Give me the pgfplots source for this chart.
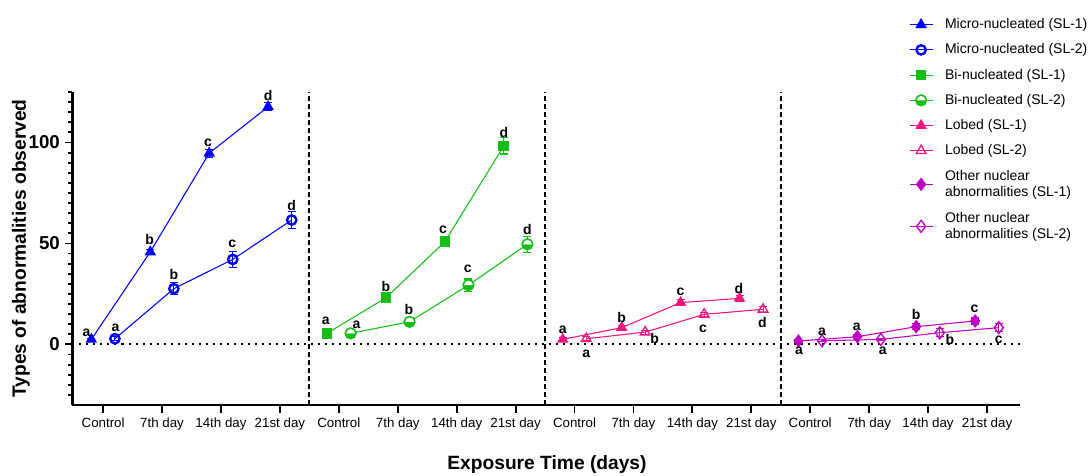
\documentclass[border=0pt]{standalone}
\usepackage{fontspec}
\setmainfont{Liberation Sans}
\usepackage{pgfplots}
\pgfplotsset{compat=1.18}
\definecolor{cblue}{RGB}{0,0,255}
\definecolor{cgreen}{RGB}{20,190,20}
\definecolor{cpink}{RGB}{240,20,125}
\definecolor{cpurple}{RGB}{192,0,192}
\pgfplotsset{
  ebar/.style={error bars/.cd, y dir=both, y explicit,
    error bar style={line width=0.8pt, solid},
    error mark options={rotate=90, mark size=3pt, line width=0.8pt}},
  lett/.style={only marks, mark=none, nodes near coords, point meta=explicit symbolic,
    nodes near coords style={anchor=center, inner sep=0pt, font=\bfseries\fontsize{10.5}{12}\selectfont, text=black},
    forget plot},
}
\begin{document}
\begin{tikzpicture}
\begin{axis}[
  at={(0,0)}, anchor=south west,
  scale only axis, width=710.6pt, height=234.75pt,
  xmin=-0.52, xmax=15.56, ymin=-30, ymax=125,
  axis lines=left, axis line style={-, line width=1.9pt, black},
  xtick={0,...,15},
  xticklabels={Control,7th day,14th day,21st day,Control,7th day,14th day,21st day,Control,7th day,14th day,21st day,Control,7th day,14th day,21st day},
  ytick={0,50,100},
  minor ytick={-25,-20,...,125},
  tick align=outside, major tick length=6pt, minor tick length=3.5pt,
  every tick/.style={line width=1.4pt, black},
  /pgf/number format/assume math mode=true,
  yticklabel style={font=\bfseries\fontsize{14}{16}\selectfont},
  xticklabel style={font=\fontsize{10}{12}\selectfont},
  xlabel={Exposure Time (days)},
  ylabel={Types of abnormalities observed},
  label style={font=\bfseries\fontsize{14.4}{17}\selectfont},
  xlabel style={at={(axis description cs:0.5008,-0.1917)}, anchor=center},
  ylabel style={at={(axis description cs:-0.0544,0.5)}, anchor=center},
  clip=false,
  legend cell align=left,
  legend style={at={(axis description cs:0.8786,1.2524)}, anchor=north west, draw=none, fill=none,
    font=\fontsize{10.5}{12.6}\selectfont, cells={align=left}, row sep=5.8pt,
    /tikz/every odd column/.append style={column sep=7pt}},
]
\draw[black, line width=1.5pt, dash pattern=on 3.75pt off 2.25pt] (axis cs:3.5,-30) -- (axis cs:3.5,125);
\draw[black, line width=1.5pt, dash pattern=on 3.75pt off 2.25pt] (axis cs:7.5,-30) -- (axis cs:7.5,125);
\draw[black, line width=1.5pt, dash pattern=on 3.75pt off 2.25pt] (axis cs:11.5,-30) -- (axis cs:11.5,125);
\draw[black, line width=1.5pt, dash pattern=on 1.5pt off 3.75pt] (axis cs:-0.52,0) -- (axis cs:15.56,0);

% Micro-nucleated
\addplot[cblue, line width=0.8pt, mark=triangle*, mark size=4.2pt, mark options={solid}, ebar]
 table[x=x,y=y,y error=e]{
x y e
-0.2 2.5 0.5
0.8 45.8 1
1.8 94.7 2
2.8 117.7 2
};
\addlegendentry{Micro-nucleated (SL-1)}
\addplot[cblue, line width=0.8pt, mark=o, mark size=3.5pt, mark options={solid, line width=1.8pt, fill=white}, ebar]
 table[x=x,y=y,y error=e]{
x y e
0.2 2.8 1
1.2 27.6 3
2.2 42.1 4
3.2 61.6 4
};
\addlegendentry{Micro-nucleated (SL-2)}
% Bi-nucleated
\addplot[cgreen, line width=0.8pt, mark=square*, mark size=3.6pt, mark options={solid}, ebar]
 table[x=x,y=y,y error=e]{
x y e
3.8 5.5 1
4.8 23.1 1.5
5.8 50.9 2
6.8 98.3 4
};
\addlegendentry{Bi-nucleated (SL-1)}
\addplot[cgreen, line width=0.8pt, mark=halfcircle*, mark size=4pt, mark options={solid, rotate=180, line width=1.2pt, fill=cgreen}, ebar]
 table[x=x,y=y,y error=e]{
x y e
4.2 5.5 1
5.2 11.2 1.5
6.2 29.4 3
7.2 49.6 4
};
\addlegendentry{Bi-nucleated (SL-2)}
% Lobed
\addplot[cpink, line width=0.8pt, mark=triangle*, mark size=4.2pt, mark options={solid}, ebar]
 table[x=x,y=y,y error=e]{
x y e
7.8 2.5 1
8.8 8.3 1
9.8 20.7 1.5
10.8 22.8 1.5
};
\addlegendentry{Lobed (SL-1)}
\addplot[cpink, line width=0.8pt, mark=triangle, mark size=4.2pt, mark options={solid, line width=1pt, fill=white}, ebar]
 table[x=x,y=y,y error=e]{
x y e
8.2 2.8 1
9.2 6.1 1
10.2 14.9 1
11.2 17.4 1.5
};
\addlegendentry{Lobed (SL-2)}
% Other
\addplot[cpurple, line width=0.8pt, mark=diamond*, mark size=4.5pt, mark options={solid}, ebar]
 table[x=x,y=y,y error=e]{
x y e
11.8 1.7 0.5
12.8 3.8 1
13.8 8.8 1.5
14.8 11.6 1.5
};
\addlegendentry{Other nuclear\\abnormalities (SL-1)}
\addplot[cpurple, line width=0.8pt, mark=diamond, mark size=4.5pt, mark options={solid, line width=1pt, fill=white}, ebar]
 table[x=x,y=y,y error=e]{
x y e
12.2 1.8 0.5
13.2 2.5 0.5
14.2 5.8 2
15.2 8.3 2
};
\addlegendentry{Other nuclear\\abnormalities (SL-2)}

% significance letters
\addplot[lett] table[meta=l]{
x y l
-0.28 5.8 a
0.79 52 b
1.78 100 c
2.80 123.4 d
0.21 8.3 a
1.2 34.7 b
2.19 49.6 c
3.2 68.9 d
3.78 11.6 a
4.80 28.9 b
5.77 57 c
6.80 105 d
4.30 9.9 a
5.19 17.4 b
6.19 37.2 c
7.20 57 d
7.80 7.1 a
8.80 13.5 b
9.80 26.1 c
10.79 27.6 d
8.20 -4.6 a
9.36 2.8 b
10.18 7.8 c
11.19 11.1 d
11.81 -3.0 a
12.79 8.8 a
13.80 14.9 b
14.79 17.4 c
12.20 6.3 a
13.23 -3.0 a
14.37 2.5 b
15.2 2.5 c
};
\end{axis}
\pgfresetboundingbox
\useasboundingbox (-54.375pt,-52.5pt) rectangle (763.875pt,303.75pt);
\end{tikzpicture}
\end{document}
